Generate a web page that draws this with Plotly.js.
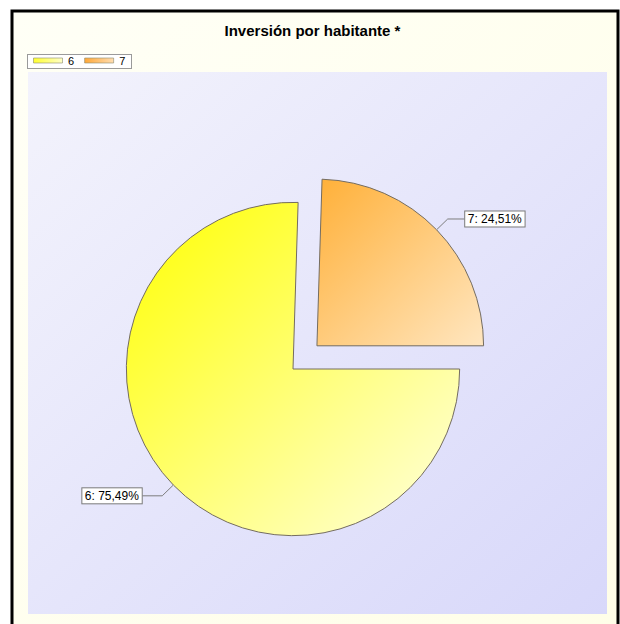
<!DOCTYPE html>
<html>
<head>
<meta charset="utf-8">
<script src="https://cdn.plot.ly/plotly-3.0.1.min.js"></script>
<style>
html,body{margin:0;padding:0;background:#fff;}
#chart{width:620px;height:624px;}
</style>
</head>
<body>
<div id="chart"></div>
<script>
// ---- data ----
var labels = ['6', '7'];
var values = [75.49, 24.51];
var sliceColors = ['#FFFF40', '#FFC860'];
var pulls = [0, 0.2];
var chartTitle = 'Inversión por habitante *';

var FONT = 'Arial, "Liberation Sans", sans-serif';

var trace = {
  type: 'pie',
  labels: labels,
  values: values,
  sort: false,
  direction: 'clockwise',
  rotation: 90,
  pull: pulls,
  marker: {colors: sliceColors, line: {color: '#746c60', width: 1}},
  texttemplate: '%{label}: %{percent:.2%}',
  textposition: 'outside',
  textfont: {family: FONT, size: 12, color: '#000'},
  hoverinfo: 'label+percent',
  domain: {x: [93/620, 493/620], y: [0.0881, 0.7292]},
  automargin: false,
  showlegend: true
};

var layout = {
  width: 620, height: 624,
  margin: {l: 0, r: 0, t: 0, b: 0},
  paper_bgcolor: '#ffffff',
  separators: ',.',
  title: {
    text: '<b>' + chartTitle + '</b>',
    font: {family: FONT, size: 15, color: '#000'},
    x: 0.504, xanchor: 'center', y: 0.951, yanchor: 'middle'
  },
  showlegend: true,
  legend: {
    orientation: 'h',
    x: 27/620, xanchor: 'left', y: 1 - 53.5/624, yanchor: 'top',
    bgcolor: '#ffffff', bordercolor: '#9a9a9a', borderwidth: 1,
    font: {family: FONT, size: 11, color: '#000'},
    itemwidth: 30, tracegroupgap: 0
  },
  shapes: [
    {type: 'rect', xref: 'paper', yref: 'paper', layer: 'below',
     x0: 12/620, x1: 618/620, y0: -0.01, y1: 1 - 11/624,
     fillcolor: '#FFFFF0', line: {color: '#000', width: 3}},
    {type: 'rect', xref: 'paper', yref: 'paper', layer: 'below',
     x0: 28/620, x1: 607/620, y0: 1 - 614/624, y1: 1 - 72/624,
     fillcolor: '#E6E6FA', line: {width: 0}}
  ]
};

Plotly.newPlot('chart', [trace], layout, {displayModeBar: false, staticPlot: true}).then(function (gd) {
  var NS = 'http://www.w3.org/2000/svg';
  var svg = gd.querySelector('svg.main-svg');
  var defs = svg.querySelector('defs');
  function grad(id, stops, x2, y2) {
    var g = document.createElementNS(NS, 'linearGradient');
    g.setAttribute('id', id);
    g.setAttribute('x1', '0'); g.setAttribute('y1', '0');
    g.setAttribute('x2', x2 || '1'); g.setAttribute('y2', y2 || '1');
    stops.forEach(function (s) {
      var st = document.createElementNS(NS, 'stop');
      st.setAttribute('offset', s[0]);
      st.setAttribute('stop-color', s[1]);
      g.appendChild(st);
    });
    defs.appendChild(g);
  }
  grad('g6', [['0', '#FFFF00'], ['1', '#FFFFE0']]);
  grad('g7', [['0', '#FFB038'], ['1', '#FFE6C0']]);
  grad('g6l', [['0', '#FFFF30'], ['1', '#FFFFC8']], '1', '0');
  grad('g7l', [['0', '#FFA838'], ['1', '#FFDDB0']], '1', '0');
  grad('gpanel', [['0', '#FFFFF6'], ['1', '#FFFEE8']]);
  grad('gplot', [['0', '#F3F3FC'], ['1', '#D8D8FA']]);

  var slices = gd.querySelectorAll('g.slice path.surface');
  if (slices[0]) slices[0].style.fill = 'url(#g6)';
  if (slices[1]) slices[1].style.fill = 'url(#g7)';
  var shp = gd.querySelectorAll('.shapelayer path');
  if (shp[0]) shp[0].style.fill = 'url(#gpanel)';
  if (shp[1]) shp[1].style.fill = 'url(#gplot)';

  // legend: wide flat swatches, compact box
  var leg = gd.querySelectorAll('.legend path.legendpie');
  leg.forEach(function (p, i) {
    p.setAttribute('d', 'M-14.5,2.5H14.5V-2.5H-14.5Z');
    p.style.fill = i === 0 ? 'url(#g6l)' : 'url(#g7l)';
    p.style.stroke = '#8a8a70';
    p.style.strokeWidth = '0.6px';
  });
  var legBg = gd.querySelector('.legend rect.bg');
  var legTraces = gd.querySelectorAll('.legend g.traces');
  if (legBg && legTraces.length) {
    var boxH = 14;
    legBg.setAttribute('height', boxH);
    legTraces.forEach(function (g) {
      var tr = g.getAttribute('transform') || '';
      var m = tr.match(/translate\(([-\d.e]+)[ ,]+([-\d.e]+)\)/);
      if (m) g.setAttribute('transform', 'translate(' + m[1] + ',' + (boxH / 2) + ')');
    });
  }

  // outside labels with leader lines and boxes, placed from the pie's own geometry
  var cdArr = gd.calcdata[0];
  var cd0 = cdArr[0];
  var overlay = document.createElementNS(NS, 'g');
  svg.appendChild(overlay);
  var texts = gd.querySelectorAll('g.slice text.slicetext');
  cdArr.forEach(function (pt, k) {
    if (!pt.pxmid) return;
    var t = texts[k];
    var label = t ? t.textContent : '';
    if (t) t.style.display = 'none';
    var p = pulls[pt.i] || 0;
    var r = cd0.r;
    var ux = pt.pxmid[0] / r, uy = pt.pxmid[1] / r;
    var ax = cd0.cx + pt.pxmid[0] * (1 + p) + ux * 0.5;
    var ay = cd0.cy + pt.pxmid[1] * (1 + p) + uy * 0.5;
    var ex = ax + ux * 15, ey = ay + uy * 15;
    var right = ux >= 0;
    var hx = right ? ex + 17 : ex - 20;

    var line = document.createElementNS(NS, 'polyline');
    line.setAttribute('points', ax + ',' + ay + ' ' + ex + ',' + ey + ' ' + hx + ',' + ey);
    line.setAttribute('fill', 'none');
    line.setAttribute('stroke', '#7d7d7d');
    line.setAttribute('stroke-width', '1');
    overlay.appendChild(line);

    var rect = document.createElementNS(NS, 'rect');
    overlay.appendChild(rect);
    var txt = document.createElementNS(NS, 'text');
    txt.textContent = label;
    txt.setAttribute('font-family', FONT);
    txt.setAttribute('font-size', '12');
    txt.setAttribute('fill', '#000');
    txt.setAttribute('text-anchor', 'start');
    overlay.appendChild(txt);
    var w = txt.getBBox().width;
    var padX = 3, boxW = w + 2 * padX, boxH2 = 16;
    var bx = right ? hx : hx - boxW;
    txt.setAttribute('x', bx + padX);
    txt.setAttribute('y', ey + 4.5);
    rect.setAttribute('x', bx);
    rect.setAttribute('y', ey - boxH2 / 2);
    rect.setAttribute('width', boxW);
    rect.setAttribute('height', boxH2);
    rect.setAttribute('fill', '#ffffff');
    rect.setAttribute('stroke', '#7a7a7a');
    rect.setAttribute('stroke-width', '1');
  });
});
</script>
</body>
</html>
